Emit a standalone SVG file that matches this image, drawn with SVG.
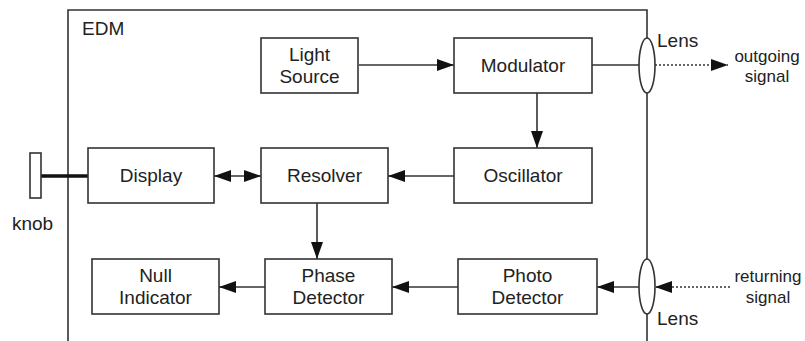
<svg xmlns="http://www.w3.org/2000/svg" width="805" height="341" viewBox="0 0 805 341">
<style>
.box{fill:#fff;stroke:#333;stroke-width:1.6}
.ln{fill:none;stroke:#333;stroke-width:1.6}
.dot{fill:none;stroke:#333;stroke-width:1.6;stroke-dasharray:2,2}
text{font-family:"Liberation Sans",Arial,sans-serif;fill:#222;text-anchor:middle}
.t{font-size:19px}
.s{font-size:17px}
</style>
<defs>
<marker id="ah" viewBox="0 0 17 12" refX="17" refY="6" markerWidth="17" markerHeight="12" markerUnits="userSpaceOnUse" orient="auto-start-reverse">
<path d="M0,0 L17,6 L0,12 Z" fill="#111"/>
</marker>
</defs>
<rect width="805" height="341" fill="#fff"/>
<g id="edm">
<path class="ln" d="M68,341 V10 H647 V38 M647,93 V259 M647,314 V341"/>
<text class="t" x="82" y="35" style="text-anchor:start">EDM</text>
</g>
<g id="connectors">
<line class="ln" x1="359" y1="65" x2="454" y2="65" marker-end="url(#ah)"/>
<line class="ln" x1="592" y1="65" x2="639" y2="65"/>
<line class="dot" x1="655" y1="65" x2="728" y2="65" marker-end="url(#ah)"/>
<line class="ln" x1="537" y1="93" x2="537" y2="148" marker-end="url(#ah)"/>
<line class="ln" x1="454" y1="176" x2="388" y2="176" marker-end="url(#ah)"/>
<line class="ln" x1="214" y1="176" x2="261" y2="176" marker-start="url(#ah)" marker-end="url(#ah)"/>
<line x1="40" y1="176" x2="88" y2="176" stroke="#111" stroke-width="3.5"/>
<line class="ln" x1="317" y1="203" x2="317" y2="259" marker-end="url(#ah)"/>
<line class="ln" x1="265" y1="287" x2="219" y2="287" marker-end="url(#ah)"/>
<line class="ln" x1="458" y1="287" x2="392" y2="287" marker-end="url(#ah)"/>
<line class="ln" x1="639" y1="287" x2="597" y2="287" marker-end="url(#ah)"/>
<line class="dot" x1="730" y1="287" x2="655" y2="287" marker-end="url(#ah)"/>
</g>
<g id="light-source">
<rect class="box" x="261" y="38" width="97" height="55"/>
<text class="t" x="309.5" y="61">Light</text>
<text class="t" x="309.5" y="83">Source</text>
</g>
<g id="modulator">
<rect class="box" x="454" y="38" width="138" height="55"/>
<text class="t" x="523" y="72">Modulator</text>
</g>
<g id="lens-top">
<ellipse class="box" cx="647" cy="65.5" rx="8" ry="27.5"/>
<text class="t" x="657" y="47" style="text-anchor:start">Lens</text>
</g>
<g id="outgoing">
<text class="s" x="767" y="62">outgoing</text>
<text class="s" x="767" y="82">signal</text>
</g>
<g id="oscillator">
<rect class="box" x="454" y="148" width="138" height="55"/>
<text class="t" x="523" y="182">Oscillator</text>
</g>
<g id="resolver">
<rect class="box" x="261" y="148" width="127" height="55"/>
<text class="t" x="324.5" y="182">Resolver</text>
</g>
<g id="display">
<rect class="box" x="88" y="148" width="126" height="55"/>
<text class="t" x="151" y="182">Display</text>
</g>
<g id="knob">
<rect class="box" x="30" y="153" width="11" height="45"/>
<text class="t" x="32.5" y="230">knob</text>
</g>
<g id="phase-detector">
<rect class="box" x="265" y="259" width="127" height="55"/>
<text class="t" x="328.5" y="282">Phase</text>
<text class="t" x="328.5" y="304">Detector</text>
</g>
<g id="null-indicator">
<rect class="box" x="92" y="259" width="127" height="55"/>
<text class="t" x="155.5" y="282">Null</text>
<text class="t" x="155.5" y="304">Indicator</text>
</g>
<g id="photo-detector">
<rect class="box" x="458" y="259" width="139" height="55"/>
<text class="t" x="527.5" y="282">Photo</text>
<text class="t" x="527.5" y="304">Detector</text>
</g>
<g id="lens-bottom">
<ellipse class="box" cx="647" cy="286.5" rx="8" ry="27.5"/>
<text class="t" x="657" y="325" style="text-anchor:start">Lens</text>
</g>
<g id="returning">
<text class="s" x="768" y="282">returning</text>
<text class="s" x="768" y="303">signal</text>
</g>
</svg>
